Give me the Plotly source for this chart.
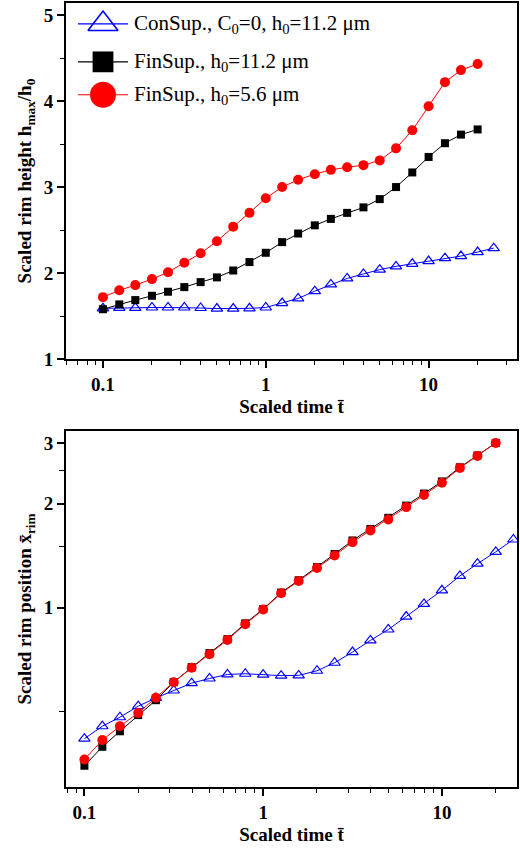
import math
import plotly.graph_objects as go

# Scaled time points (same sampling for every series)
t_all = [0.1, 0.126, 0.158, 0.2, 0.251, 0.316, 0.398, 0.501, 0.631, 0.794,
         1.0, 1.26, 1.58, 2.0, 2.51, 3.16, 3.98, 5.01, 6.31, 7.94,
         10.0, 12.6, 15.8, 20.0, 25.1]
t_fin = t_all[:24]

# Scaled rim height h_max/h_0
h_con = [1.59, 1.596, 1.596, 1.60, 1.60, 1.60, 1.594, 1.587, 1.587, 1.59,
         1.60, 1.651, 1.705, 1.79, 1.868, 1.938, 1.99, 2.04, 2.078, 2.108,
         2.14, 2.174, 2.198, 2.244, 2.29]
h_fin_112 = [1.58, 1.636, 1.686, 1.736, 1.783, 1.837, 1.895, 1.95, 2.03, 2.128,
             2.236, 2.36, 2.46, 2.555, 2.63, 2.70, 2.764, 2.86, 3.00, 3.17,
             3.35, 3.51, 3.61, 3.67]
h_fin_56 = [1.72, 1.80, 1.86, 1.93, 2.01, 2.12, 2.23, 2.37, 2.54, 2.70,
            2.87, 3.00, 3.085, 3.15, 3.20, 3.23, 3.255, 3.31, 3.45, 3.66,
            3.94, 4.22, 4.36, 4.43]

# Scaled rim position x_rim
x_con = [0.417, 0.453, 0.481, 0.518, 0.547, 0.575, 0.604, 0.623, 0.64, 0.643,
         0.639, 0.635, 0.636, 0.656, 0.692, 0.743, 0.803, 0.864, 0.942, 1.025,
         1.122, 1.235, 1.34, 1.45, 1.575]
x_fin_112 = [0.348, 0.395, 0.438, 0.488, 0.539, 0.608, 0.672, 0.738, 0.81, 0.90,
             0.99, 1.105, 1.20, 1.31, 1.43, 1.565, 1.69, 1.82, 1.975, 2.14,
             2.32, 2.55, 2.76, 3.0]
x_fin_56 = [0.363, 0.413, 0.453, 0.495, 0.548, 0.608, 0.669, 0.732, 0.806, 0.895,
            0.987, 1.10, 1.194, 1.302, 1.416, 1.548, 1.673, 1.80, 1.955, 2.12,
            2.30, 2.54, 2.75, 3.0]

legend_labels = ["ConSup., C<sub>0</sub>=0, h<sub>0</sub>=11.2 \u03bcm",
                 "FinSup., h<sub>0</sub>=11.2 \u03bcm",
                 "FinSup., h<sub>0</sub>=5.6 \u03bcm"]

BLUE = "#0000ff"
RED = "#ff0000"
BLACK = "#000000"
FONT = "Liberation Serif"

styles = [
    dict(color=BLUE, symbol="triangle-up-open", size=10, lw=1.2),
    dict(color=BLACK, symbol="square", size=8, lw=0),
    dict(color=RED, symbol="circle", size=10, lw=0),
]

fig = go.Figure()


def add_series(x, y, st, xa, ya):
    fig.add_trace(go.Scatter(
        x=x, y=y, mode="lines+markers", xaxis=xa, yaxis=ya, showlegend=False,
        line=dict(color=st["color"], width=1),
        marker=dict(symbol=st["symbol"], size=st["size"], color=st["color"],
                    line=dict(color=st["color"], width=st["lw"])),
    ))


# upper panel: rim height
add_series(t_all, h_con, styles[0], "x", "y")
add_series(t_fin, h_fin_112, styles[1], "x", "y")
add_series(t_fin, h_fin_56, styles[2], "x", "y")
# lower panel: rim position
add_series(t_all, x_con, styles[0], "x2", "y2")
add_series(t_fin, x_fin_112, styles[1], "x2", "y2")
add_series(t_fin, x_fin_56, styles[2], "x2", "y2")

# legend glyphs on a pixel-like overlay of the upper panel
leg_rows = [21, 59, 92]
for st, yy, lab in zip(styles, leg_rows, legend_labels):
    fig.add_trace(go.Scatter(
        x=[12, 62], y=[yy, yy], mode="lines", xaxis="x3", yaxis="y3",
        showlegend=False, hoverinfo="skip",
        line=dict(color=st["color"], width=1.2)))
    fig.add_trace(go.Scatter(
        x=[37], y=[yy], mode="markers", xaxis="x3", yaxis="y3",
        showlegend=False, hoverinfo="skip",
        marker=dict(symbol=st["symbol"], size=st["size"] * 2.6,
                    color=st["color"],
                    line=dict(color=st["color"], width=1.6 if st["lw"] else 0))))
    fig.add_annotation(x=66, y=yy, xref="x3", yref="y3", text=lab,
                       showarrow=False, xanchor="left", yanchor="middle",
                       font=dict(family=FONT, size=21, color="black"))

tickfont = dict(family=FONT, size=19, color="black", weight="bold")
titlefont = dict(family=FONT, size=19, color="black", weight="bold")

dec_minor = [m * 10 ** e for e in (-2, -1, 0, 1) for m in range(2, 10)]

common_x = dict(
    type="log", showgrid=False, zeroline=False, showline=True, linecolor="black",
    linewidth=2, mirror=True, ticks="outside", ticklen=7, tickwidth=1.5,
    tickcolor="black", tickvals=[0.1, 1, 10], ticktext=["0.1", "1", "10"],
    tickfont=tickfont,
    minor=dict(tickvals=dec_minor, ticks="outside", ticklen=4, tickwidth=1.2,
               tickcolor="black", showgrid=False),
    title=dict(text="Scaled time t\u0304", font=titlefont, standoff=6),
)
common_y = dict(
    showgrid=False, zeroline=False, showline=True, linecolor="black",
    linewidth=2, mirror=True, ticks="outside", ticklen=7, tickwidth=1.5,
    tickcolor="black", tickfont=tickfont,
)

x2_range = [math.log10(0.0789), math.log10(26.3)]

fig.update_layout(
    width=520, height=850,
    margin=dict(l=66, r=3, t=1, b=63),
    paper_bgcolor="white", plot_bgcolor="white",
    xaxis=dict(common_x, domain=[0, 1], anchor="y",
               range=[math.log10(0.0593), math.log10(34.9)]),
    yaxis=dict(common_y, domain=[0.5458, 1], anchor="x", range=[1, 5.14],
               tickvals=[1, 2, 3, 4, 5],
               minor=dict(tickvals=[1.5, 2.5, 3.5, 4.5], ticks="outside",
                          ticklen=4, tickwidth=1.2, tickcolor="black",
                          showgrid=False),
               title=dict(text="Scaled rim height h<sub>max</sub>/h<sub>0</sub>",
                          font=titlefont, standoff=7)),
    xaxis2=dict(common_x, domain=[0, 1], anchor="y2", range=x2_range),
    yaxis2=dict(common_y, domain=[0, 0.4542], anchor="x2", type="log",
                range=[-0.520, 0.512],
                tickvals=[1, 2, 3], ticktext=["1", "2", "3"],
                minor=dict(tickvals=[0.5, 1.5, 2.5], ticks="outside",
                           ticklen=5, tickwidth=1.2, tickcolor="black",
                           showgrid=False),
                title=dict(text="Scaled rim position x\u0304<sub>rim</sub>",
                           font=titlefont, standoff=7)),
    xaxis3=dict(overlaying="x", anchor="y3", range=[0, 451], visible=False,
                fixedrange=True),
    yaxis3=dict(overlaying="y", anchor="x3", range=[357, 0], visible=False,
                fixedrange=True),
    # inward ticks along the top frame of the lower panel
    xaxis4=dict(overlaying="x2", anchor="y2", side="top", type="log",
                range=x2_range, showgrid=False, zeroline=False, showline=False,
                ticks="inside", ticklen=4, tickwidth=1.2, tickcolor="black",
                tickvals=[0.1, 1, 10], showticklabels=False,
                minor=dict(tickvals=dec_minor, ticks="inside", ticklen=3,
                           tickwidth=1, tickcolor="black", showgrid=False)),
    showlegend=False,
)

fig.write_html("out.html")
